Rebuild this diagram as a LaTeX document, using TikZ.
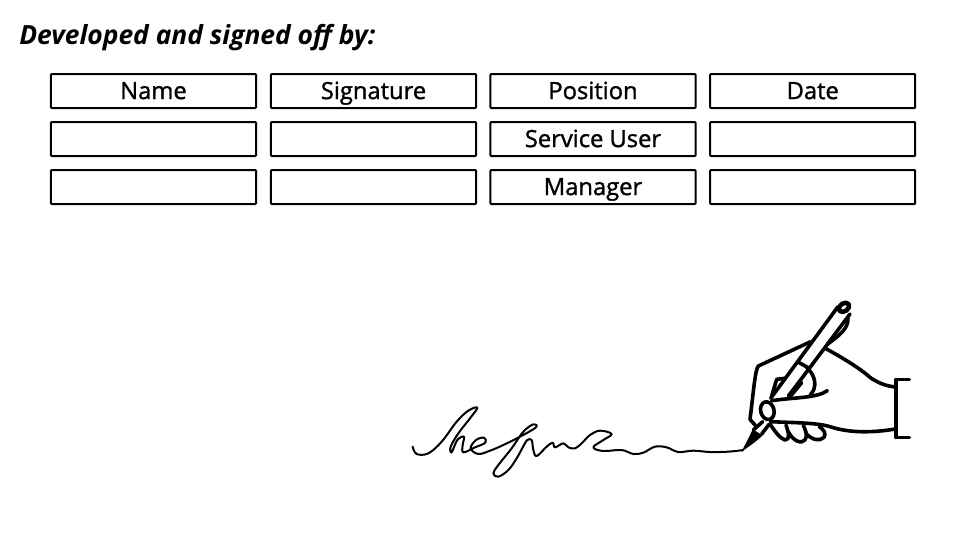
\documentclass[tikz,border=0pt]{standalone}
\usepackage{fontspec}
\setmainfont{Open Sans}
\newfontfamily\labfont[FakeBold=1.3]{Open Sans}
\tikzset{
  cellbox/.style={draw=black,line width=1.5pt,rounded corners=0.6pt,minimum width=153.8pt,minimum height=25.5pt,inner sep=0pt,text height=15.5pt,text depth=3.4pt,font=\labfont\fontsize{17.8}{19}\selectfont,text=black},
  ink/.style={draw=black,line width=2.7pt,line cap=round,line join=round},
  thin ink/.style={draw=black,line width=1.5pt,line cap=round,line join=round},
  zoomed/.style={x=0.25pt,y=-0.25pt}
}
\begin{document}
\begin{tikzpicture}[x=0.75pt,y=-0.75pt]
\useasboundingbox (0,0) rectangle (960,540);
\node[anchor=west,inner sep=0pt,font=\fontsize{19.8}{21}\selectfont\bfseries\itshape] (title) at (19,38) {Developed and signed off by:};
\foreach \nm/\cx/\cy/\tx in {a/153.5/91/Name,b/373.5/91/Signature,c/593/91/Position,d/812.7/91/Date,
  e/153.5/139/{},f/373.5/139/{},g/593/139/Service User,h/812.7/139/{},
  i/153.5/187/{},j/373.5/187/{},k/593/187/Manager,l/812.7/187/{}}{
  \node[cellbox] (\nm) at (\cx,\cy) {\tx};
}
% hand and pen
\begin{scope}[shift={(720,290)},zoomed]
  \draw[ink] (354,50) -- (152,325);
  \draw[ink] (390,72) -- (268,235) -- (205,318);
  \draw[ink] (232,215) -- (268,235);
  \draw[ink,line width=3.4pt] (372,52) ellipse [x radius=17,y radius=12,rotate=35];
  \draw[ink] (384,85) .. controls (385,115) and (360,135) .. (322,163);
  \draw[ink] (272,155) -- (115,228) .. controls (105,240) and (100,310) .. (90,388) -- (106,406);
  \draw[ink] (318,176) .. controls (370,205) and (420,235) .. (450,262) .. controls (475,280) and (500,288) .. (526,291);
  \draw[ink] (568,268) -- (528,268) -- (528,442) -- (568,442);
  \draw[ink] (152,395) .. controls (220,398) and (290,398) .. (330,410) .. controls (390,430) and (460,428) .. (526,417);
  \draw[ink] (155,332) .. controls (220,322) and (290,325) .. (322,302);
  \draw[ink] (142,362) ellipse [x radius=20,y radius=27,rotate=15];
  \draw[ink] (155,318) -- (170,268) -- (194,265);
  \draw[ink] (260,232) .. controls (285,255) and (295,290) .. (270,316);
  \draw[ink] (245,278) -- (212,318);
  \draw[ink] (150,402) .. controls (165,425) and (180,445) .. (195,450) .. controls (212,450) and (205,425) .. (198,405);
  \draw[ink] (205,425) .. controls (220,455) and (245,462) .. (255,450) .. controls (265,435) and (255,420) .. (250,405);
  \draw[ink] (258,430) .. controls (275,450) and (300,455) .. (312,442) .. controls (320,430) and (310,418) .. (298,410);
  \draw[ink] (128,395) -- (100,420);
  \draw[ink] (148,402) -- (125,432);
  \fill[black] (98,418) -- (128,436) .. controls (105,458) and (85,470) .. (64,486) .. controls (75,465) and (88,440) .. (98,418) -- cycle;
\end{scope}
% signature
\begin{scope}[shift={(400,390)},zoomed]
  \draw[thin ink] plot[smooth,tension=0.6] coordinates {
    (38,170) (50,192) (85,190) (125,155) (170,95) (205,62) (232,53) (210,85) (175,130) (152,170) (155,187)
    (172,150) (192,140) (188,165) (190,187) (225,172) (256,158) (252,143) (228,150) (212,175) (235,192) (270,182) (310,165)
    (360,140) (408,112) (400,103) (370,125) (335,175) (295,225) (280,250) (295,260) (325,240) (350,205) (372,165)
    (382,150) (395,150) (400,180) (410,198) (440,170) (458,158) (465,172) (490,160) (505,172) (525,175) (545,160)
    (570,135) (600,122) (635,132) (610,150) (580,172) (610,183) (665,180) (700,192) (730,188) (765,170) (800,172) (835,186) (880,182) (930,186) (985,185) (1030,180)};
\end{scope}
\end{tikzpicture}
\end{document}
